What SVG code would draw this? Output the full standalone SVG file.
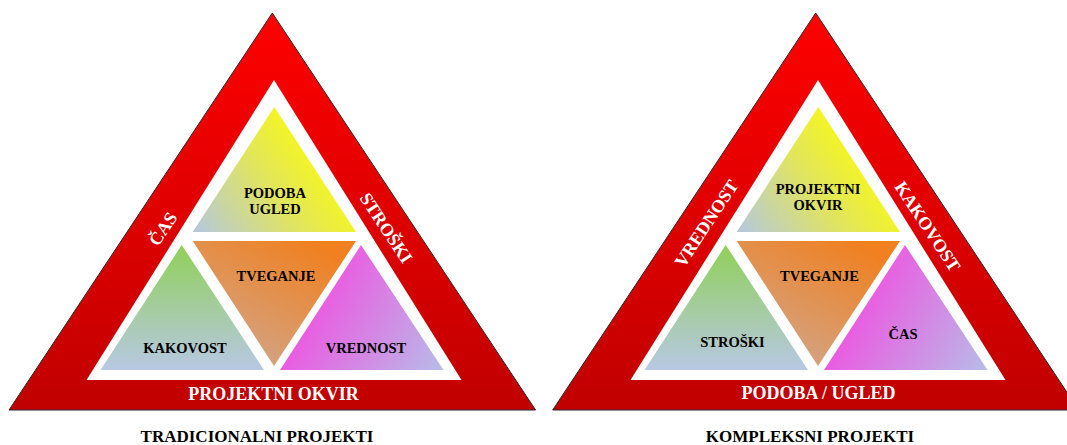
<svg xmlns="http://www.w3.org/2000/svg" width="1067" height="445" viewBox="0 0 1067 445">
  <defs>
    <linearGradient id="gRed" x1="0" y1="0" x2="0" y2="1">
      <stop offset="0" stop-color="#ff0000"/>
      <stop offset="1" stop-color="#c00000"/>
    </linearGradient>
    <linearGradient id="gYellow" x1="0" y1="1" x2="1" y2="0.45">
      <stop offset="0" stop-color="#b4c8e0"/>
      <stop offset="0.5" stop-color="#e0e460"/>
      <stop offset="1" stop-color="#ffff00"/>
    </linearGradient>
    <linearGradient id="gOrange" x1="0.85" y1="0.1" x2="0.2" y2="1">
      <stop offset="0" stop-color="#f08020"/>
      <stop offset="1" stop-color="#cfa890"/>
    </linearGradient>
    <linearGradient id="gGreen" x1="0" y1="0" x2="0" y2="1">
      <stop offset="0" stop-color="#90d058"/>
      <stop offset="1" stop-color="#b8c8e4"/>
    </linearGradient>
    <linearGradient id="gMagenta" x1="0.05" y1="0.6" x2="1" y2="1">
      <stop offset="0" stop-color="#f050e0"/>
      <stop offset="1" stop-color="#b8bce8"/>
    </linearGradient>
  </defs>
  <style>
    text { font-family: "Liberation Serif", "Times New Roman", serif; font-weight: bold; text-anchor: middle; }
    .outer { fill: url(#gRed); stroke: #2a2a2a; stroke-width: 1; }
    .frame { fill: #ffffff; }
    .band { fill: #ffffff; font-size: 18px; }
    .inner { fill: #000000; font-size: 14.5px; }
    .caption { fill: #000000; font-size: 17px; }
  </style>

  <!-- Traditional projects pyramid -->
  <g id="traditional">
    <polygon class="outer" points="272.3,13 9,410 535.6,410"/>
    <polygon class="frame" points="274,80 86.5,380 461.5,380"/>
    <g id="t-image">
      <polygon fill="url(#gYellow)" points="274.3,107 192.7,232 356,232"/>
      <text class="inner" x="275" y="198">PODOBA</text>
      <text class="inner" x="275" y="214">UGLED</text>
    </g>
    <g id="t-risk">
      <polygon fill="url(#gOrange)" points="192.7,241 356,241 274,366"/>
      <text class="inner" x="276" y="281">TVEGANJE</text>
    </g>
    <g id="t-quality">
      <polygon fill="url(#gGreen)" points="181.7,245 100.5,370 264,370"/>
      <text class="inner" x="185" y="352.5">KAKOVOST</text>
    </g>
    <g id="t-value">
      <polygon fill="url(#gMagenta)" points="361,245 280,370 443.5,370"/>
      <text class="inner" x="366" y="352.5">VREDNOST</text>
    </g>
    <text class="band" transform="translate(163,229) rotate(-56.5)" y="6">ČAS</text>
    <text class="band" transform="translate(386,228) rotate(56.5)" y="6">STROŠKI</text>
    <text class="band" x="273.5" y="399.5" font-size="17.5">PROJEKTNI OKVIR</text>
    <text class="caption" x="257" y="442">TRADICIONALNI PROJEKTI</text>
  </g>

  <!-- Complex projects pyramid -->
  <g id="complex">
    <polygon class="outer" points="815.7,13 552.7,410 1078.7,410"/>
    <polygon class="frame" points="818,80 630.5,380 1005.5,380"/>
    <g id="c-frame">
      <polygon fill="url(#gYellow)" points="818.3,107 736.7,232 900,232"/>
      <text class="inner" x="818" y="193.5">PROJEKTNI</text>
      <text class="inner" x="818" y="209.5">OKVIR</text>
    </g>
    <g id="c-risk">
      <polygon fill="url(#gOrange)" points="736.7,241 900,241 818,366"/>
      <text class="inner" x="819.5" y="281">TVEGANJE</text>
    </g>
    <g id="c-costs">
      <polygon fill="url(#gGreen)" points="725.7,245 644.5,370 808,370"/>
      <text class="inner" x="732.5" y="346.5">STROŠKI</text>
    </g>
    <g id="c-time">
      <polygon fill="url(#gMagenta)" points="905,245 824,370 987.5,370"/>
      <text class="inner" x="903" y="339">ČAS</text>
    </g>
    <text class="band" transform="translate(706.5,223.5) rotate(-56.5)" y="6">VREDNOST</text>
    <text class="band" transform="translate(927.5,226.5) rotate(56.5)" y="6">KAKOVOST</text>
    <text class="band" x="818.5" y="398.5" font-size="17.5">PODOBA / UGLED</text>
    <text class="caption" x="810" y="442">KOMPLEKSNI PROJEKTI</text>
  </g>
</svg>
